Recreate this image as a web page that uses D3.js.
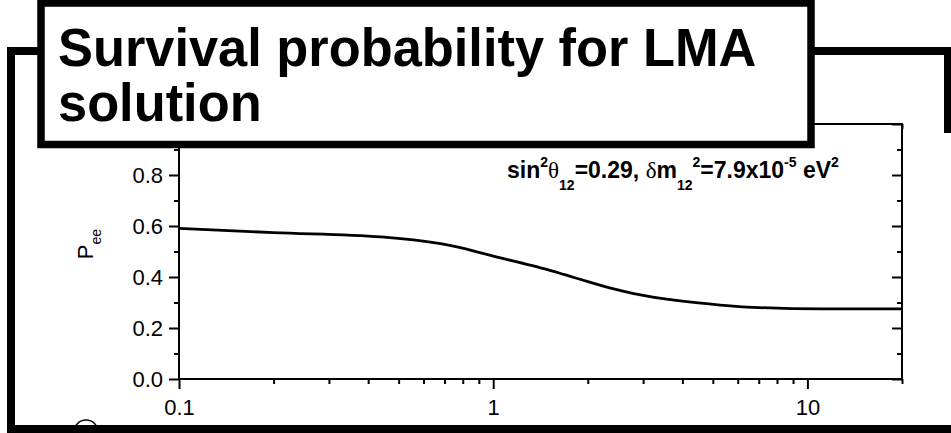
<!DOCTYPE html>
<html>
<head>
<meta charset="utf-8">
<script src="https://cdn.jsdelivr.net/npm/d3@7"></script>
<style>
  body { margin: 0; background: #fff; }
  text { font-family: "Liberation Sans", Arial, sans-serif; fill: #000; }
</style>
</head>
<body>
<svg id="chart" width="951" height="433"></svg>
<script>
// neutrino energy (MeV) and survival probability
var energy = [0.1, 0.2, 0.44, 0.76, 1.0, 1.2, 1.46, 1.7, 2.04, 2.4, 2.8, 3.94, 5.28, 6.73, 11.2, 20];
var pee = [0.591, 0.574, 0.557, 0.519, 0.482, 0.458, 0.432, 0.408, 0.379, 0.354, 0.335, 0.306, 0.290, 0.281, 0.275, 0.275];

// ticks
var xMajor = [0.1, 1, 10];
var xMajorLabels = ["0.1", "1", "10"];
var xMinor = [0.2, 0.3, 0.4, 0.5, 0.6, 0.7, 0.8, 0.9, 2, 3, 4, 5, 6, 7, 8, 9, 20];
var yMajor = [0.0, 0.2, 0.4, 0.6, 0.8, 1.0];
var yMajorLabels = ["0.0", "0.2", "0.4", "0.6", "0.8", ""]; // 1.0 sits under the title box
var yMinor = [0.1, 0.3, 0.5, 0.7, 0.9];

var titleLines = ["Survival probability for LMA", "solution"];

var svg = d3.select("#chart"),
    width = +svg.attr("width"),
    height = +svg.attr("height");

var plot = { left: 179, right: 902, top: 124, bottom: 379 };

var x = d3.scaleLog().domain([0.1, 20]).range([plot.left, plot.right]);
var y = d3.scaleLinear().domain([0, 1]).range([plot.bottom, plot.top]);

svg.append("rect").attr("width", width).attr("height", height).attr("fill", "#fff");

// slide frame behind everything
var frame = svg.append("g").attr("fill", "#000");
frame.append("rect").attr("x", 7).attr("y", 47).attr("width", 8).attr("height", 386);
frame.append("rect").attr("x", 7).attr("y", 47).attr("width", 944).attr("height", 8);
frame.append("rect").attr("x", 944).attr("y", 47).attr("width", 7).attr("height", 86);
svg.append("circle").attr("cx", 86).attr("cy", 432).attr("r", 12)
   .attr("fill", "none").attr("stroke", "#000").attr("stroke-width", 1.5);
frame.append("rect").attr("x", 7).attr("y", 425).attr("width", 944).attr("height", 8);

// plot area
svg.append("rect")
   .attr("x", plot.left).attr("y", plot.top)
   .attr("width", plot.right - plot.left).attr("height", plot.bottom - plot.top)
   .attr("fill", "#fff").attr("stroke", "#000").attr("stroke-width", 2);

function styleAxis(g) {
  g.select(".domain").remove();
  g.selectAll(".tick line").attr("stroke", "#000").attr("stroke-width", 2);
  g.selectAll(".tick text").attr("font-size", 22).attr("fill", "#000");
}

// bottom
svg.append("g").attr("transform", "translate(0," + plot.bottom + ")")
   .call(d3.axisBottom(x).tickValues(xMajor).tickSize(10).tickPadding(10)
     .tickFormat(function(d, i) { return xMajorLabels[i]; }))
   .call(styleAxis);
svg.append("g").attr("transform", "translate(0," + plot.bottom + ")")
   .call(d3.axisBottom(x).tickValues(xMinor).tickSize(5).tickFormat(""))
   .call(styleAxis);
// top (inward)
svg.append("g").attr("transform", "translate(0," + plot.top + ")")
   .call(d3.axisBottom(x).tickValues(xMajor).tickSize(10).tickFormat(""))
   .call(styleAxis);
svg.append("g").attr("transform", "translate(0," + plot.top + ")")
   .call(d3.axisBottom(x).tickValues(xMinor).tickSize(5).tickFormat(""))
   .call(styleAxis);

// left
svg.append("g").attr("transform", "translate(" + plot.left + ",0)")
   .call(d3.axisLeft(y).tickValues(yMajor).tickSize(10).tickPadding(6)
     .tickFormat(function(d, i) { return yMajorLabels[i]; }))
   .call(styleAxis);
svg.append("g").attr("transform", "translate(" + plot.left + ",0)")
   .call(d3.axisLeft(y).tickValues(yMinor).tickSize(5).tickFormat(""))
   .call(styleAxis);
// right (inward)
svg.append("g").attr("transform", "translate(" + plot.right + ",0)")
   .call(d3.axisLeft(y).tickValues(yMajor).tickSize(10).tickFormat(""))
   .call(styleAxis);
svg.append("g").attr("transform", "translate(" + plot.right + ",0)")
   .call(d3.axisLeft(y).tickValues(yMinor).tickSize(5).tickFormat(""))
   .call(styleAxis);

// y label P_ee
var ylab = svg.append("text")
   .attr("transform", "translate(93,244) rotate(-90)")
   .attr("text-anchor", "middle")
   .attr("font-size", 22);
ylab.append("tspan").text("P");
ylab.append("tspan").attr("font-size", 14).attr("dy", 8).text("ee");

// curve
var line = d3.line()
   .x(function(d, i) { return x(energy[i]); })
   .y(function(d) { return y(d); })
   .curve(d3.curveMonotoneX);

svg.append("path")
   .datum(pee)
   .attr("d", line)
   .attr("fill", "none")
   .attr("stroke", "#000")
   .attr("stroke-width", 2.8)
   .attr("stroke-linejoin", "round");

// parameters note
var note = svg.append("text")
   .attr("x", 507).attr("y", 178)
   .attr("font-size", 23).attr("font-weight", "bold");
note.append("tspan").text("sin");
note.append("tspan").attr("font-size", 14).attr("dy", -11).text("2");
note.append("tspan").attr("dy", 11).attr("font-family", "Liberation Serif").attr("font-weight", "normal").text("θ");
note.append("tspan").attr("font-size", 14).attr("dy", 12).text("12");
note.append("tspan").attr("dy", -12).text("=0.29, ");
note.append("tspan").attr("font-family", "Liberation Serif").attr("font-weight", "normal").text("δ");
note.append("tspan").text("m");
note.append("tspan").attr("font-size", 14).attr("dy", 12).text("12");
note.append("tspan").attr("font-size", 14).attr("dy", -23).text("2");
note.append("tspan").attr("dy", 11).text("=7.9x10");
note.append("tspan").attr("font-size", 14).attr("dy", -11).text("-5");
note.append("tspan").attr("dy", 11).text(" eV");
note.append("tspan").attr("font-size", 14).attr("dy", -11).text("2");

// title box on top
svg.append("rect")
   .attr("x", 41).attr("y", 3)
   .attr("width", 770).attr("height", 141.5)
   .attr("fill", "#fff").attr("stroke", "#000").attr("stroke-width", 7.5);

svg.selectAll(".title")
   .data(titleLines)
   .enter().append("text")
   .attr("class", "title")
   .attr("transform", function(d, i) { return "translate(58," + (66 + i * 55) + ") scale(0.97,1)"; })
   .attr("font-size", 54)
   .attr("font-weight", "bold")
   .text(function(d) { return d; });
</script>
</body>
</html>
